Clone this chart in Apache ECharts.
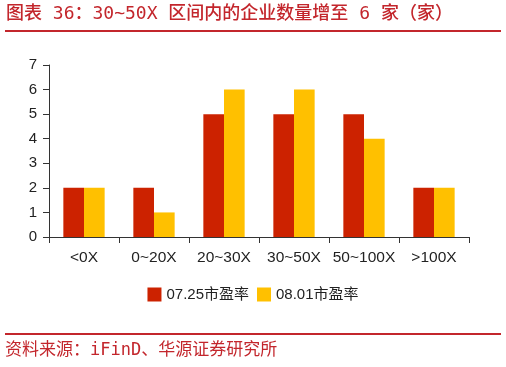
<!DOCTYPE html>
<html><head><meta charset="utf-8">
<script src="https://cdn.jsdelivr.net/npm/echarts@6/dist/echarts.min.js"></script>
<style>html,body{margin:0;padding:0;background:#fff}#c{width:506px;height:367px}</style>
</head><body><div id="c"></div>
<script>
const categories = ['<0X','0~20X','20~30X','30~50X','50~100X','>100X'];
const series0725 = [2,2,5,5,5,2];
const series0801 = [2,1,6,6,4,2];
const yTicks = [0,1,2,3,4,5,6,7];
const titleText = '图表 36：30~50X 区间内的企业数量增至 6 家（家）';
const sourceText = '资料来源：iFinD、华源证券研究所';

const chart = echarts.init(document.getElementById('c'));
const red = '#C3262C';
chart.setOption({
  animation: false,
  backgroundColor: '#fff',
  grid: {left: 49, right: 37, top: 65, bottom: 130},
  legend: {
    bottom: 60, left: 'center', itemWidth: 14, itemHeight: 14, itemGap: 8,
    icon: 'rect',
    textStyle: {fontFamily: 'Liberation Sans, Noto Sans CJK SC', fontSize: 15, color: '#222'},
    data: ['07.25市盈率','08.01市盈率']
  },
  xAxis: {
    type: 'category', data: categories,
    axisLine: {lineStyle: {color: '#333', width: 1}},
    axisTick: {show: true, alignWithLabel: false, length: 6, lineStyle: {color: '#333'}},
    axisLabel: {interval: 0, fontFamily: 'Liberation Sans', fontSize: 15.5, color: '#222', margin: 13}
  },
  yAxis: {
    type: 'value', min: 0, max: 7, interval: 1,
    splitLine: {show: false},
    axisLine: {show: true, lineStyle: {color: '#333', width: 1}},
    axisTick: {show: true, length: 6, lineStyle: {color: '#333'}},
    axisLabel: {fontFamily: 'Liberation Sans', fontSize: 15, color: '#222', margin: 12,
      formatter: v => yTicks.includes(v) ? String(v) : ''}
  },
  series: [
    {name: '07.25市盈率', type: 'bar', data: series0725, barGap: '0%', barCategoryGap: '41%',
     itemStyle: {color: '#CC2200'}},
    {name: '08.01市盈率', type: 'bar', data: series0801, itemStyle: {color: '#FFC000'}}
  ],
  graphic: [
    {type: 'text', left: 6, top: 5, style: {text: titleText, fill: red,
      font: '500 18px "DejaVu Sans Mono", "Noto Sans CJK SC"'}},
    {type: 'rect', shape: {x: 5, y: 30, width: 496, height: 2}, style: {fill: red}},
    {type: 'rect', shape: {x: 5, y: 333, width: 496, height: 2}, style: {fill: red}},
    {type: 'text', left: 5, top: 342, style: {text: sourceText, fill: red,
      font: '17px "DejaVu Sans Mono", "Noto Sans CJK SC"'}}
  ]
});
</script></body></html>
